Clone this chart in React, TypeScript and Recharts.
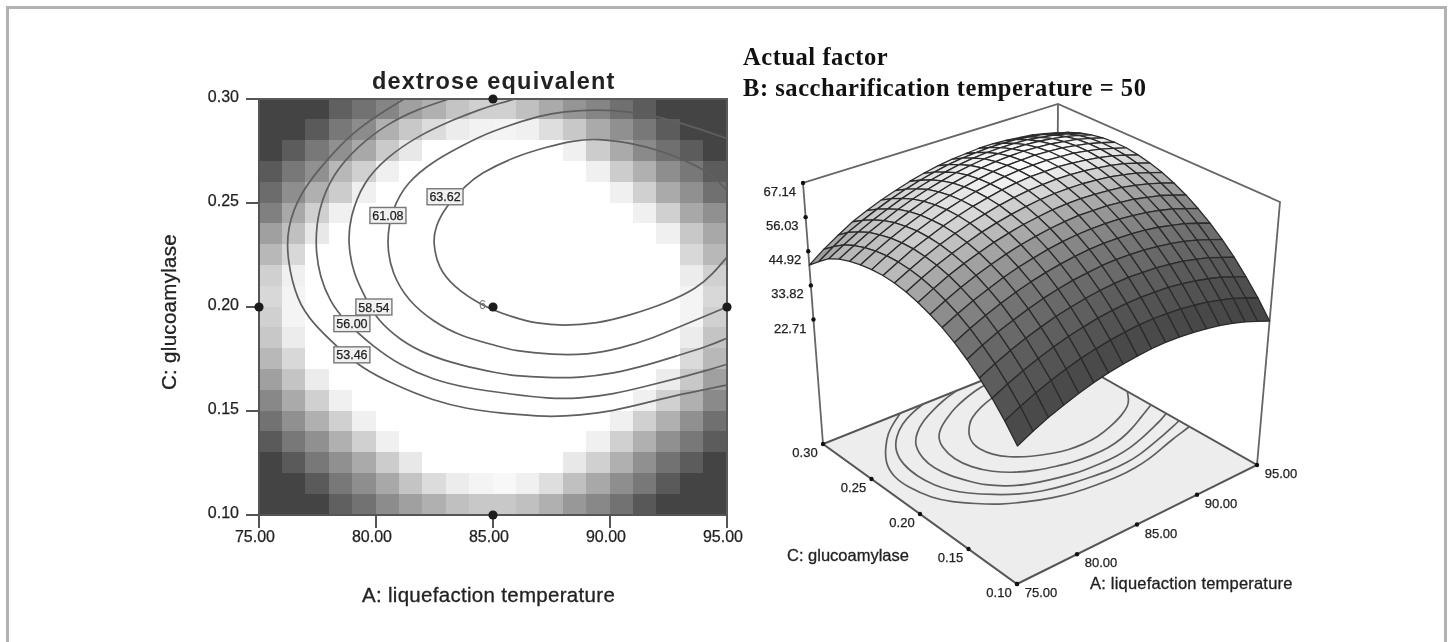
import React from "react"
import { ScatterChart, Scatter, XAxis, YAxis, ReferenceArea } from "recharts"

const FONT = '"Liberation Sans", Arial, sans-serif'
const INK = "#222"

const A_TICKS = [75, 80, 85, 90, 95]
const C_TICKS = [0.1, 0.15, 0.2, 0.25, 0.3]
const Z_TICKS = [67.14, 56.03, 44.92, 33.82, 22.71]
const Z_FLOOR = -17.8
const Z_TOP = 67.14

// grey level of each heat cell, top row first
const W = 255
const HEAT_ROWS = [
  [68,68,68,96,114,133,160,176,196,208,208,192,170,149,133,112,92,68,68,68],
  [68,68,90,120,140,176,200,220,236,242,244,240,222,200,170,144,120,92,68,68],
  [68,92,120,144,168,202,232,W,W,W,W,W,W,240,204,170,138,112,92,68],
  [90,120,144,184,208,240,W,W,W,W,W,W,W,W,240,204,176,142,120,92],
  [108,142,176,204,240,W,W,W,W,W,W,W,W,W,W,240,208,170,144,112],
  [128,168,208,240,W,W,W,W,W,W,W,W,W,W,W,W,240,208,168,144],
  [160,192,232,W,W,W,W,W,W,W,W,W,W,W,W,W,W,240,200,168],
  [184,216,W,W,W,W,W,W,W,W,W,W,W,W,W,W,W,W,216,184],
  [208,240,W,W,W,W,W,W,W,W,W,W,W,W,W,W,W,W,236,208],
  [216,244,W,W,W,W,W,W,W,W,W,W,W,W,W,W,W,W,244,216],
  [208,244,W,W,W,W,W,W,W,W,W,W,W,W,W,W,W,W,244,208],
  [200,236,W,W,W,W,W,W,W,W,W,W,W,W,W,W,W,W,236,196],
  [184,216,W,W,W,W,W,W,W,W,W,W,W,W,W,W,W,W,218,184],
  [160,196,236,W,W,W,W,W,W,W,W,W,W,W,W,W,W,236,200,160],
  [136,170,208,240,W,W,W,W,W,W,W,W,W,W,W,W,240,208,176,138],
  [114,144,176,208,240,W,W,W,W,W,W,W,W,W,W,240,208,176,144,112],
  [90,120,144,176,208,240,W,W,W,W,W,W,W,W,240,208,176,144,120,92],
  [68,90,120,144,170,204,232,W,W,W,W,W,W,232,208,176,144,114,92,68],
  [68,68,90,120,142,168,196,220,236,244,248,240,222,192,168,142,120,90,68,68],
  [68,68,68,96,114,140,160,176,192,200,200,192,176,152,136,114,88,68,68,68],
]

const CONTOUR_53 = [[81.2,.3],[80.17,.293],[79.02,.284],[77.91,.271],[76.75,.255],[76.2,.238],[76.2,.223],[76.62,.203],[77.31,.192],[78.33,.181],[79.32,.171],[80.9,.162],[82.44,.155],[83.89,.151],[85.3,.149],[87.31,.147],[88.72,.148],[90.13,.15],[91.58,.154],[92.99,.158],[94.15,.1605],[95,.1625]]
const CONTOUR_56 = [[83.12,.3],[81.75,.295],[80.47,.288],[79.19,.277],[78.16,.264],[77.52,.247],[77.39,.229],[77.61,.214],[78.03,.203],[78.59,.194],[79.87,.181],[81.03,.172],[82.44,.165],[83.89,.161],[85.85,.158],[87.31,.156],[88.72,.156],[90.13,.158],[91.58,.162],[92.99,.166],[94.15,.1695],[95,.1725]]
const CONTOUR_58 = [[85.94,.3],[85.3,.298],[84.44,.295],[83.29,.29],[81.75,.282],[80.47,.272],[79.44,.26],[78.89,.243],[78.8,.231],[79.02,.216],[79.62,.203],[80.04,.194],[81.03,.184],[82.18,.177],[83.59,.172],[85.3,.168],[85.85,.167],[87.31,.166],[88.72,.166],[90.13,.168],[91.58,.172],[92.99,.177],[94.15,.181],[95,.185]]
const CONTOUR_61 = [[95,.281],[93.72,.286],[92.26,.291],[90.85,.294],[89.44,.295],[87.99,.294],[87.01,.292],[85.6,.287],[84.44,.282],[83.59,.277],[82.44,.27],[81.32,.26],[80.68,.247],[80.43,.231],[80.68,.216],[81.37,.203],[82.44,.193],[83.59,.186],[85.3,.181],[85.85,.179],[87.56,.177],[89.02,.177],[90.43,.18],[91.84,.185],[93.29,.192],[95,.2]]
const CONTOUR_63 = [[95,.256],[94.4,.263],[93.72,.268],[92.26,.275],[90.85,.279],[89.44,.281],[88.42,.28],[87.31,.277],[85.85,.272],[84.44,.264],[83.89,.259],[82.95,.248],[82.52,.238],[82.44,.231],[82.65,.219],[83.29,.21],[84.44,.201],[85.85,.195],[86.88,.192],[87.99,.191],[89.44,.192],[90.85,.196],[92.44,.202],[93.72,.209],[94.4,.216],[95,.224]]
const CONTOURS = [CONTOUR_53, CONTOUR_56, CONTOUR_58, CONTOUR_61, CONTOUR_63]

const CONTOUR_LABELS = ["63.62", "61.08", "58.54", "56.00", "53.46"]
const LABEL_A = [82.95, 80.51, 79.91, 78.97, 78.97]
const LABEL_C = [0.253, 0.244, 0.2, 0.192, 0.177]

const DESIGN_A = [75, 85, 85, 85, 95]
const DESIGN_C = [0.2, 0.3, 0.2, 0.1, 0.2]

// surface height read per mesh node: rows run C 0.10 -> 0.30, columns A 75 -> 95
const SURFACE_ROWS = [
  [21.4,23.8,26.0,27.8,29.5,31.0,32.2,33.1,33.9,34.5,34.8,34.8,34.6,34.2,33.6,32.7,31.6,30.2,28.7],
  [26.4,28.8,31.0,32.9,34.6,36.1,37.3,38.3,39.1,39.7,40.0,40.0,39.9,39.5,38.9,38.0,37.0,35.6,34.1],
  [30.8,33.2,35.4,37.3,39.1,40.6,41.8,42.9,43.7,44.3,44.6,44.7,44.6,44.2,43.6,42.8,41.8,40.4,38.9],
  [34.6,37.1,39.3,41.3,43.0,44.6,45.8,46.9,47.8,48.4,48.8,48.8,48.8,48.4,47.9,47.0,46.1,44.7,43.3],
  [38.0,40.5,42.8,44.7,46.5,48.1,49.4,50.5,51.3,52.0,52.4,52.5,52.4,52.1,51.6,50.8,49.8,48.5,47.1],
  [41.0,43.5,45.8,47.8,49.6,51.2,52.5,53.6,54.5,55.2,55.6,55.7,55.7,55.4,54.9,54.1,53.2,51.9,50.5],
  [43.5,46.0,48.3,50.3,52.2,53.8,55.1,56.3,57.2,57.9,58.3,58.5,58.5,58.2,57.7,57.0,56.1,54.8,53.4],
  [45.5,48.1,50.4,52.5,54.3,56.0,57.4,58.5,59.5,60.2,60.7,60.8,60.9,60.6,60.2,59.4,58.6,57.3,56.0],
  [47.2,49.8,52.2,54.3,56.1,57.8,59.2,60.4,61.3,62.1,62.6,62.8,62.8,62.6,62.2,61.5,60.6,59.4,58.1],
  [48.5,51.1,53.5,55.6,57.5,59.2,60.6,61.8,62.8,63.6,64.1,64.3,64.4,64.2,63.8,63.1,62.3,61.1,59.8],
  [49.4,52.0,54.4,56.6,58.5,60.2,61.6,62.9,63.9,64.7,65.2,65.5,65.6,65.4,65.0,64.4,63.6,62.4,61.1],
  [49.9,52.5,55.0,57.1,59.1,60.8,62.3,63.5,64.6,65.4,66.0,66.2,66.4,66.2,65.8,65.2,64.4,63.3,62.0],
  [49.9,52.6,55.1,57.3,59.2,61.0,62.5,63.8,64.8,65.7,66.3,66.6,66.7,66.6,66.3,65.7,64.9,63.8,62.6],
  [49.6,52.3,54.8,57.0,59.0,60.8,62.3,63.6,64.7,65.6,66.2,66.5,66.7,66.6,66.3,65.7,65.0,63.9,62.7],
  [48.9,51.6,54.1,56.4,58.4,60.2,61.7,63.1,64.2,65.1,65.7,66.1,66.3,66.2,65.9,65.3,64.7,63.6,62.4],
  [47.8,50.5,53.1,55.3,57.4,59.2,60.8,62.1,63.3,64.2,64.9,65.2,65.4,65.4,65.1,64.6,63.9,62.9,61.7],
  [46.1,48.9,51.5,53.8,55.8,57.7,59.3,60.7,61.8,62.8,63.5,63.9,64.1,64.1,63.9,63.3,62.7,61.7,60.6],
  [43.4,46.6,49.6,51.9,54.0,55.9,57.5,58.9,60.1,61.1,61.8,62.2,62.5,62.5,62.3,61.8,61.2,60.2,59.1],
  [40.4,43.9,46.9,49.7,51.8,53.7,55.3,56.8,58.0,59.0,59.7,60.1,60.5,60.5,60.3,59.8,59.3,58.3,57.2],
]
const MESH = SURFACE_ROWS.length - 1

// camera for the 3D box: page position of its corners, with a depth weight each
const CORNERS = [
  { u: 0, v: 0, w: 1, base: [1017, 584], top: [1018, 285] },
  { u: 1, v: 0, w: 1.12, base: [1257, 465], top: [1280, 202] },
  { u: 0, v: 1, w: 1.13, base: [823, 444], top: [803, 183] },
  { u: 1, v: 1, w: 1.25, base: [1056, 351], top: [1058, 104] },
]

function project(a: number, c: number, z: number, flat = false) {
  const u = (a - 75) / 20
  const v = (c - 0.1) / 0.2
  const t = (z - Z_FLOOR) / (Z_TOP - Z_FLOOR)
  let sx = 0, sy = 0, sw = 0
  CORNERS.forEach(k => {
    const m = (flat ? 1 : k.w) * (k.u ? u : 1 - u) * (k.v ? v : 1 - v)
    sx += m * (k.base[0] + (k.top[0] - k.base[0]) * t)
    sy += m * (k.base[1] + (k.top[1] - k.base[1]) * t)
    sw += m
  })
  return { x: sx / sw, y: sy / sw }
}

const meshData = SURFACE_ROWS.flatMap((row, j) =>
  row.map((z, i) => project(75 + (i * 20) / MESH, 0.1 + (j * 0.2) / MESH, z))
)
const floorData = [[75, 0.1], [95, 0.1], [95, 0.3], [75, 0.3]].map(([a, c]) => project(a, c, Z_FLOOR))

function quadGrey(i: number, j: number) {
  const r = SURFACE_ROWS
  const da = ((r[j][i + 1] + r[j + 1][i + 1] - r[j][i] - r[j + 1][i]) * MESH) / 4
  const dc = ((r[j + 1][i] + r[j + 1][i + 1] - r[j][i] - r[j][i + 1]) * MESH) / 4
  const gx = da * 0.6
  const gy = dc < 0 ? -dc * 0.3 : dc
  const g2 = (gx * gx + gy * gy) / (18 * 18)
  return Math.max(66, Math.round(252 / Math.pow(1 + g2, 0.6)))
}

// one polygon per mesh cell, painted from the far corner to the near one
function SurfaceMesh({ points }: any) {
  const cells = []
  const n = MESH + 1
  for (let j = MESH - 1; j >= 0; j--) {
    for (let i = MESH - 1; i >= 0; i--) {
      const ids = [j * n + i, j * n + i + 1, (j + 1) * n + i + 1, (j + 1) * n + i]
      const g = quadGrey(i, j)
      cells.push(
        <polygon
          key={`${i}-${j}`}
          points={ids.map(k => `${points[k].x},${points[k].y}`).join(" ")}
          fill={`rgb(${g},${g},${g})`}
          stroke="#2b2b2b"
          strokeWidth={1.3}
          strokeLinejoin="round"
        />
      )
    }
  }
  return <g>{cells}</g>
}

function FloorPlane({ points }: any) {
  return (
    <polygon
      points={points.map((p: any) => `${p.x},${p.y}`).join(" ")}
      fill="#ededed"
      stroke="#555"
      strokeWidth={2}
    />
  )
}

const noDot = () => <g />

const tickText = (x: number, y: number, s: string, size: number, anchor = "middle") => (
  <text x={x} y={y} fontFamily={FONT} fontSize={size} fill={INK} stroke={INK} strokeWidth={0.25} textAnchor={anchor}>{s}</text>
)

const LeftXTick = ({ x, y, payload }: any) => tickText(x - 4, y + 12, payload.value.toFixed(2), 16)
const LeftYTick = ({ x, y, payload }: any) => tickText(x - 5, y + 3, payload.value.toFixed(2), 16, "end")

function ContourTag({ cx, cy, payload }: any) {
  return (
    <g>
      <rect x={cx - 18} y={cy - 8} width={36} height={16} fill="#f1f1f1" stroke="#777" strokeWidth={1.4} />
      {tickText(cx, cy + 4.5, payload.label, 12.5)}
    </g>
  )
}

const tickDot = (dx: number, dy: number, anchor: string) => ({ cx, cy, payload }: any) => (
  <g>
    <circle cx={cx} cy={cy} r={2.2} fill="#111" />
    {tickText(cx + dx, cy + dy, payload.label, 13, anchor)}
  </g>
)

const caption = (s: string, left: number, top: number, size: number, extra = {}) => (
  <div style={{ position: "absolute", left, top, fontFamily: FONT, fontSize: size, color: INK, whiteSpace: "nowrap", WebkitTextStroke: "0.3px #222", ...extra }}>{s}</div>
)

const serifLine = (s: string, top: number) => (
  <div style={{ position: "absolute", left: 743, top, fontFamily: '"Liberation Serif", serif', fontWeight: 700, fontSize: 24.5, letterSpacing: 0.55, color: "#111", whiteSpace: "nowrap" }}>{s}</div>
)

export default function App() {
  const heatCells = HEAT_ROWS.flatMap((row, r) =>
    row.map((g, c) => (
      <ReferenceArea
        key={`${r}-${c}`}
        x1={75 + c}
        x2={76 + c}
        y1={0.29 - r * 0.01}
        y2={0.3 - r * 0.01}
        fill={`rgb(${g},${g},${g})`}
        fillOpacity={1}
        stroke={`rgb(${g},${g},${g})`}
        strokeWidth={1}
        shapeRendering="crispEdges"
        ifOverflow="visible"
      />
    ))
  )
  const tagData = CONTOUR_LABELS.map((label, i) => ({ x: LABEL_A[i], y: LABEL_C[i], label }))
  const designData = DESIGN_A.map((a, i) => ({ x: a, y: DESIGN_C[i] }))

  return (
    <div style={{ position: "absolute", left: 0, top: 0, width: 1453, height: 642, background: "#fff", overflow: "hidden", filter: "blur(0.5px)" }}>
      <div style={{ position: "absolute", left: 6, top: 6, width: 1435, height: 660, border: "3px solid #b2b2b2" }} />

      <div style={{ position: "absolute", left: 0, top: 0 }}>
        <ScatterChart width={760} height={610} margin={{ top: 99, right: 33, bottom: 55, left: 209 }}>
          <XAxis type="number" dataKey="x" domain={[75, 95]} ticks={A_TICKS} tick={LeftXTick} tickSize={13} height={40} stroke="#555" strokeWidth={2} />
          <YAxis type="number" dataKey="y" domain={[0.1, 0.3]} ticks={C_TICKS} tick={LeftYTick} tickSize={13} width={50} stroke="#555" strokeWidth={2} />
          {heatCells}
          <ReferenceArea x1={75} x2={95} y1={0.1} y2={0.3} fill="none" stroke="#5a5a5a" strokeWidth={2} ifOverflow="visible" />
          {CONTOURS.map((pts, i) => (
            <Scatter
              key={i}
              data={pts.map(([x, y]) => ({ x, y }))}
              shape={noDot}
              line={{ stroke: "#5f5f5f", strokeWidth: 1.7 }}
              lineJointType="basis"
              isAnimationActive={false}
            />
          ))}
          <Scatter data={tagData} shape={ContourTag} isAnimationActive={false} />
          <Scatter data={designData} fill="#1c1c1c" shape={({ cx, cy }: any) => <circle cx={cx} cy={cy} r={4.6} fill="#1c1c1c" />} isAnimationActive={false} />
        </ScatterChart>
      </div>

      <div style={{ position: "absolute", left: 740, top: 90 }}>
        <ScatterChart width={570} height={530} margin={{ top: 0, right: 0, bottom: 0, left: 0 }}>
          <XAxis type="number" dataKey="x" domain={[740, 1310]} hide />
          <YAxis type="number" dataKey="y" domain={[90, 620]} reversed hide />
          <Scatter data={[...floorData]} shape={noDot} line={FloorPlane} isAnimationActive={false} />
          {CONTOURS.map((pts, i) => (
            <Scatter
              key={i}
              data={pts.map(([a, c]) => project(a, c, Z_FLOOR))}
              shape={noDot}
              line={{ stroke: "#5f5f5f", strokeWidth: 1.7 }}
              lineJointType="basis"
              isAnimationActive={false}
            />
          ))}
          <Scatter
            data={[project(75, 0.3, Z_FLOOR), project(75, 0.3, Z_TOP), project(95, 0.3, Z_TOP), project(95, 0.1, Z_TOP), project(95, 0.1, Z_FLOOR)]}
            shape={noDot}
            line={{ stroke: "#666", strokeWidth: 1.8 }}
            isAnimationActive={false}
          />
          <Scatter
            data={[project(95, 0.3, Z_FLOOR), project(95, 0.3, Z_TOP)]}
            shape={noDot}
            line={{ stroke: "#666", strokeWidth: 1.8 }}
            isAnimationActive={false}
          />
          <Scatter data={meshData} shape={noDot} line={SurfaceMesh} isAnimationActive={false} />
          <Scatter
            data={Z_TICKS.map(z => ({ ...project(75, 0.3, z), label: z.toFixed(2) }))}
            shape={tickDot(-7, 13, "end")}
            isAnimationActive={false}
          />
          <Scatter
            data={C_TICKS.map(c => ({ ...project(75, c, Z_FLOOR, true), label: c.toFixed(2) }))}
            shape={tickDot(-18, 13, "middle")}
            isAnimationActive={false}
          />
          <Scatter
            data={A_TICKS.map(a => ({ ...project(a, 0.1, Z_FLOOR, true), label: a.toFixed(2) }))}
            shape={tickDot(24, 13, "middle")}
            isAnimationActive={false}
          />
        </ScatterChart>
      </div>

      {caption("dextrose equivalent", 372, 68, 23.5, { letterSpacing: 1.2, fontWeight: 700, WebkitTextStroke: "0" })}
      {caption("A: liquefaction temperature", 362, 583, 20.5, { letterSpacing: 0.3 })}
      <div style={{ position: "absolute", left: 169, top: 312, transform: "translate(-50%,-50%) rotate(-90deg)", fontFamily: FONT, fontSize: 20.5, letterSpacing: 0.3, color: INK, whiteSpace: "nowrap", WebkitTextStroke: "0.3px #222" }}>C: glucoamylase</div>
      {caption("C: glucoamylase", 787, 546, 16.5)}
      {caption("A: liquefaction temperature", 1090, 574, 16.5, { letterSpacing: 0.2 })}
      {serifLine("Actual factor", 43)}
      {serifLine("B: saccharification temperature = 50", 74)}
      <div style={{ position: "absolute", left: 479, top: 298, fontFamily: FONT, fontSize: 12.5, color: "#777", whiteSpace: "nowrap" }}>6</div>
    </div>
  )
}
